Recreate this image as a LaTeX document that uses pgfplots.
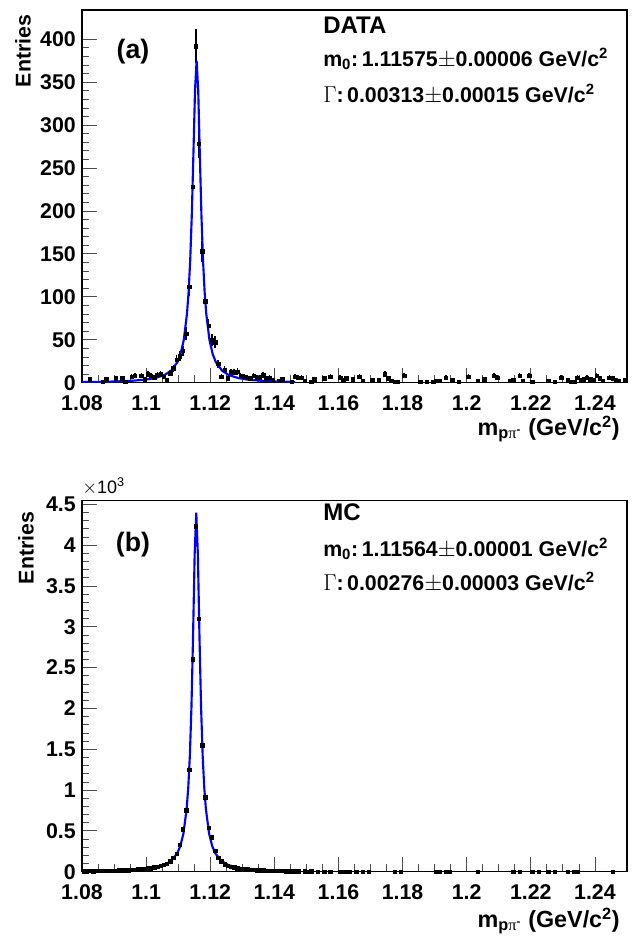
\documentclass[border=0pt]{standalone}
\usepackage{fontspec}
\setmainfont{Liberation Sans}
\newfontfamily\symf{Liberation Serif}
\usepackage{pgfplots}
\usepackage{pgfplotstable}
\pgfplotsset{compat=1.18}

\pgfplotstableread{
x y
1.0825 4
1.0865 1
1.0875 4
1.0905 5
1.0925 5
1.0935 1
1.0955 7
1.0965 8
1.0985 8
1.0995 4
1.1005 10
1.1015 8
1.1025 6
1.1035 9
1.1045 10
1.1055 7
1.1065 3
1.1075 11
1.1085 17
1.1095 27
1.1105 31
1.1115 37
1.1125 57
1.1135 112
1.1145 228
1.1155 392
1.1165 278
1.1175 153
1.1185 95
1.1195 66
1.1205 50
1.1215 47
1.1225 22
1.1235 7
1.1245 15
1.1255 5
1.1265 12
1.1275 12
1.1285 13
1.1295 8
1.1305 7
1.1315 6
1.1325 5
1.1335 8
1.1345 6
1.1355 6
1.1365 9
1.1375 5
1.1385 6
1.1395 3
1.1415 2
1.1425 4
1.1455 1
1.1465 7
1.1475 6
1.1485 6
1.1495 2
1.1515 1
1.1525 4
1.1555 5
1.1575 7
1.1605 6
1.1615 3
1.1625 5
1.1645 4
1.1665 7
1.1675 2
1.1705 3
1.1725 3
1.1745 10
1.1755 5
1.1765 2
1.1775 1
1.1785 1
1.1805 8
1.1855 1
1.1875 1
1.1895 1
1.1905 2
1.1915 2
1.1935 6
1.1955 3
1.1975 1
1.2005 7
1.2035 2
1.2055 4
1.2085 8
1.2095 6
1.2135 2
1.2145 3
1.2165 8
1.2175 2
1.2195 8
1.2205 1
1.2255 2
1.2275 1
1.2295 6
1.2315 3
1.2325 1
1.2335 1
1.2345 6
1.2355 3
1.2365 4
1.2375 6
1.2385 4
1.2395 3
1.2405 8
1.2415 5
1.2425 2
1.2445 6
1.2455 5
1.2465 3
1.2475 2
1.2495 3
}\datatop

\pgfplotstableread{
x y
1.08000 0.72
1.08575 1.02
1.09075 1.46
1.09575 2.28
1.09975 3.55
1.10275 5.36
1.10575 8.97
1.10775 13.8
1.10975 23.9
1.11075 33.5
1.11175 49.9
1.11275 80.5
1.11325 105.6
1.11375 142.4
1.11425 195.4
1.11475 266.2
1.11525 340.3
1.11575 375
1.11625 340.3
1.11675 266.2
1.11725 195.4
1.11775 142.4
1.11825 105.6
1.11875 80.5
1.11975 49.9
1.12075 33.5
1.12175 23.9
1.12375 13.8
1.12575 8.97
1.12875 5.36
1.13175 3.55
1.13575 2.28
1.14075 1.46
1.14650 0.97
}\fittop

\pgfplotstableread{
x y
1.0805 8
1.0815 7
1.0825 9
1.0835 8
1.0845 10
1.0855 9
1.0865 11
1.0875 10
1.0885 12
1.0895 13
1.0905 14
1.0915 15
1.0925 16
1.0935 18
1.0945 20
1.0955 22
1.0965 25
1.0975 28
1.0985 31
1.0995 35
1.1005 40
1.1015 44
1.1025 52
1.1035 60
1.1045 70
1.1055 82
1.1065 100
1.1075 128
1.1085 170
1.1095 220
1.1105 330
1.1115 520
1.1125 750
1.1135 1250
1.1145 2600
1.1155 4230
1.1165 3100
1.1175 1550
1.1185 910
1.1195 540
1.1205 420
1.1215 255
1.1225 170
1.1235 125
1.1245 90
1.1255 75
1.1265 62
1.1275 52
1.1285 44
1.1295 38
1.1305 33
1.1315 29
1.1325 25
1.1335 22
1.1345 20
1.1355 18
1.1365 16
1.1375 14
1.1385 13
1.1395 12
1.1405 11
1.1415 10
1.1425 9
1.1435 8
1.1445 7
1.1455 5
1.1465 4
1.1475 3
1.1495 3
1.1505 2
1.1515 3
1.1535 2
1.1555 2
1.1575 1
1.1605 2
1.1615 1
1.1625 2
1.1635 1
1.1655 1
1.1675 1
1.1695 1
1.1775 1
1.1795 1
1.1905 1
1.1915 1
1.1935 1
1.1945 1
1.2035 1
1.2145 1
1.2165 1
1.2205 1
1.2225 1
1.2255 1
1.2275 1
1.2315 1
1.2335 1
1.2345 1
1.2455 1
}\datamc

\pgfplotstableread{
x y
1.08000 6.6
1.08564 9.3
1.09064 13.4
1.09564 20.8
1.09964 32.5
1.10264 49
1.10564 82
1.10764 127
1.10964 221
1.11064 311
1.11164 468
1.11264 769
1.11314 1028
1.11364 1419
1.11414 2017
1.11464 2885
1.11514 3890
1.11564 4400
1.11614 3890
1.11664 2885
1.11714 2017
1.11764 1419
1.11814 1028
1.11864 769
1.11964 468
1.12064 311
1.12164 221
1.12364 127
1.12564 82
1.12864 49
1.13164 32.5
1.13564 20.8
1.14064 13.4
1.14564 9.3
}\fitmc

\pgfplotsset{
  rootstyle/.style={
    scale only axis,
    width=408.75pt,
    xmin=1.08, xmax=1.25,
    xtick={1.08,1.1,1.12,1.14,1.16,1.18,1.2,1.22,1.24},
    minor x tick num=3,
    minor y tick num=4,
    xtick pos=bottom, ytick pos=left,
    tick align=inside,
    major tick length=11pt,
    minor tick length=5.5pt,
    tick style={black!70, line width=0.6pt},
    axis line style={line width=0.9pt},
    /pgf/number format/assume math mode=true,
    /pgf/number format/fixed,
    /pgf/number format/precision=2,
    ticklabel style={font=\bfseries\fontsize{16}{16}\selectfont, inner sep=0pt},
    xticklabel style={yshift=-9.5pt},
    yticklabel style={xshift=-4.5pt},
    scaled ticks=false,
  },
  datastyle/.style={
    only marks, black, mark=square*, mark size=1.3pt,
    mark options={fill=black, draw=black},
    error bars/.cd, y dir=both, y explicit,
    error mark=none,
    error bar style={line width=1.2pt, black},
  },
  fitstyle/.style={no marks, blue, line width=1.6pt},
}

\begin{document}
\begin{tikzpicture}
\useasboundingbox (0pt,0pt) rectangle (475.5pt,705pt);

% ---------- panel (a) ----------
\begin{axis}[rootstyle,
  at={(61.5pt,417.975pt)}, anchor=south west,
  height=279.5pt,
  ymin=0, ymax=434,
  ytick={0,50,100,150,200,250,300,350,400},
]
\addplot[datastyle] table[x=x,y=y,y error expr={sqrt(\thisrow{y})}] {\datatop};
\addplot[fitstyle] table[x=x,y=y] {\fittop};
\end{axis}

% ---------- panel (b) ----------
\begin{axis}[rootstyle,
  at={(61.5pt,51.225pt)}, anchor=south west,
  height=278.55pt,
  ymin=0, ymax=4550,
  ytick={0,500,1000,1500,2000,2500,3000,3500,4000,4500},
  yticklabels={0,0.5,1,1.5,2,2.5,3,3.5,4,4.5},
]
\addplot[datastyle] table[x=x,y=y,y error expr={sqrt(\thisrow{y})}] {\datamc};
\addplot[fitstyle] table[x=x,y=y] {\fitmc};
\end{axis}

% ---------- texts ----------
\begin{scope}[x=0.75pt,y=0.75pt]
\node[rotate=90, font=\bfseries\fontsize{16}{16}\selectfont] at (23,889) {Entries};
\node[rotate=90, font=\bfseries\fontsize{16}{16}\selectfont] at (26,392) {Entries};

\node[font=\bfseries\fontsize{20}{20}\selectfont] at (133,888) {(a)};
\node[font=\bfseries\fontsize{20}{20}\selectfont] at (133,395) {(b)};

\node[anchor=mid west, inner sep=0pt, font=\bfseries\fontsize{18}{18}\selectfont] at (323,910) {DATA};
\node[anchor=mid west, inner sep=0pt, font=\bfseries\fontsize{16}{16}\selectfont] at (323,877) {m\textsubscript{0}:\,1.11575$\pm$0.00006 GeV/c\textsuperscript{2}};
\node[anchor=mid west, inner sep=0pt, font=\bfseries\fontsize{16}{16}\selectfont] at (323,841) {$\Gamma$:\,0.00313$\pm$0.00015 GeV/c\textsuperscript{2}};

\node[anchor=mid west, inner sep=0pt, font=\bfseries\fontsize{18}{18}\selectfont] at (323,423) {MC};
\node[anchor=mid west, inner sep=0pt, font=\bfseries\fontsize{16}{16}\selectfont] at (323,387) {m\textsubscript{0}:\,1.11564$\pm$0.00001 GeV/c\textsuperscript{2}};
\node[anchor=mid west, inner sep=0pt, font=\bfseries\fontsize{16}{16}\selectfont] at (323,353) {$\Gamma$:\,0.00276$\pm$0.00003 GeV/c\textsuperscript{2}};

\node[anchor=mid west, inner sep=0pt, font=\fontsize{13.5}{13.5}\selectfont] at (82,450) {$\times$10\textsuperscript{3}};

\node[anchor=mid east, inner sep=0pt, font=\bfseries\fontsize{17.5}{17.5}\selectfont] at (620,508) {m\textsubscript{p{\symf\mdseries π}\textsuperscript{-}} (GeV/c\textsuperscript{2})};
\node[anchor=mid east, inner sep=0pt, font=\bfseries\fontsize{17.5}{17.5}\selectfont] at (620,16) {m\textsubscript{p{\symf\mdseries π}\textsuperscript{-}} (GeV/c\textsuperscript{2})};
\end{scope}
\end{tikzpicture}
\end{document}
